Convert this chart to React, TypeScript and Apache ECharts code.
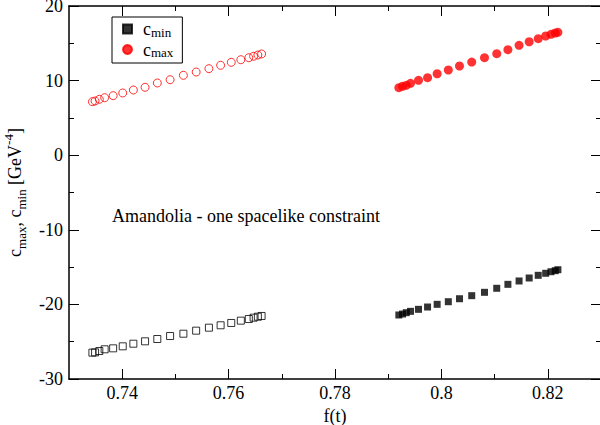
import React, { useEffect, useRef } from "react";
import * as echarts from "echarts";

const fLeft = [0.7344, 0.7349, 0.7357, 0.7367, 0.7383, 0.7401, 0.7421, 0.7443, 0.7466, 0.749, 0.7515, 0.7539, 0.7563, 0.7585, 0.7605, 0.7623, 0.7638, 0.7647, 0.7655, 0.7662];
const cmaxLeft = [7.17, 7.27, 7.49, 7.71, 7.98, 8.34, 8.74, 9.1, 9.68, 10.12, 10.71, 11.15, 11.6, 12.05, 12.45, 12.8, 13.07, 13.26, 13.43, 13.57];
const cminLeft = [-26.47, -26.43, -26.25, -26.02, -25.89, -25.62, -25.27, -24.95, -24.64, -24.24, -23.93, -23.52, -23.12, -22.8, -22.49, -22.18, -21.96, -21.78, -21.65, -21.55];
const fRight = [0.792, 0.7927, 0.7934, 0.7942, 0.7957, 0.7974, 0.7992, 0.8013, 0.8034, 0.8057, 0.8081, 0.8104, 0.8125, 0.8146, 0.8165, 0.8182, 0.8196, 0.8206, 0.8214, 0.8219];
const cmaxRight = [9.05, 9.24, 9.37, 9.64, 10.04, 10.39, 10.92, 11.42, 11.96, 12.49, 13.07, 13.61, 14.14, 14.73, 15.21, 15.62, 15.98, 16.21, 16.38, 16.47];
const cminRight = [-21.42, -21.29, -21.11, -20.93, -20.66, -20.35, -19.99, -19.64, -19.24, -18.83, -18.38, -17.84, -17.31, -16.86, -16.46, -16.1, -15.83, -15.62, -15.48, -15.35];

const xMajor = [0.74, 0.76, 0.78, 0.8, 0.82];
const xMinor = [0.75, 0.77, 0.79, 0.81];
const annotation = "Amandolia - one spacelike constraint";

const FONT = "Liberation Serif";

const zip = (xs: number[], ys: number[]) => xs.map((x, i) => [x, ys[i]]);

export default function App() {
  const ref = useRef<HTMLDivElement>(null);
  useEffect(() => {
    if (!ref.current) return;
    const chart = echarts.init(ref.current, null, { renderer: "svg" });
    const line = { show: true, onZero: false, lineStyle: { color: "#000", width: 1.5 } };
    const noLine = { show: false, onZero: false };
    const tickStyle = { color: "#000", width: 1 };
    const baseX = { type: "value", min: 0.73, max: 0.83, splitLine: { show: false } };
    const rich = {
      c: { fontSize: 18, fontFamily: FONT, color: "#000", lineHeight: 26 },
      s: { fontSize: 13, fontFamily: FONT, color: "#000", lineHeight: 13, verticalAlign: "bottom" },
      p: { fontSize: 13, fontFamily: FONT, color: "#000", lineHeight: 13, verticalAlign: "top" },
    };
    const legendRich = {
      c: { fontSize: 18, fontFamily: FONT, color: "#000", lineHeight: 19, padding: [0, 0, 0, 6] },
      s: { fontSize: 13, fontFamily: FONT, color: "#000", lineHeight: 13, verticalAlign: "bottom" },
    };
    chart.setOption({
      animation: false,
      backgroundColor: "#fff",
      textStyle: { fontFamily: FONT },
      grid: { left: 69, right: -1, top: 6, bottom: 46, containLabel: false, outerBoundsMode: "none" },
      legend: {
        orient: "vertical",
        left: 112,
        top: 17,
        padding: [3, 9, 4, 10],
        itemGap: 2,
        itemWidth: 9,
        itemHeight: 9,
        symbolKeepAspect: true,
        borderColor: "#000",
        borderWidth: 1,
        backgroundColor: "#fff",
        data: [
          { name: "cmin", icon: "rect", itemStyle: { color: "#000" } },
          { name: "cmax", icon: "circle", itemStyle: { color: "#ff0000" } },
        ],
        formatter: (name: string) => (name === "cmin" ? "{c|c}{s|min}" : "{c|c}{s|max}"),
        textStyle: { fontFamily: FONT, rich: legendRich },
      },
      xAxis: [
        {
          ...baseX,
          position: "bottom",
          axisLine: line,
          axisTick: { show: true, inside: true, length: 10, customValues: xMajor, lineStyle: tickStyle },
          axisLabel: {
            customValues: xMajor,
            fontSize: 18,
            fontFamily: FONT,
            color: "#000",
            margin: 5,
            formatter: (v: number) => String(parseFloat(v.toFixed(2))),
          },
          name: "f(t)",
          nameLocation: "middle",
          nameGap: 22,
          nameTextStyle: { fontSize: 18, fontFamily: FONT, color: "#000" },
        },
        {
          ...baseX,
          position: "bottom",
          axisLine: noLine,
          axisTick: { show: true, inside: true, length: 5, customValues: xMinor, lineStyle: tickStyle },
          axisLabel: { show: false },
        },
        {
          ...baseX,
          position: "top",
          axisLine: line,
          axisTick: { show: true, inside: true, length: 10, customValues: xMajor, lineStyle: tickStyle },
          axisLabel: { show: false },
        },
        {
          ...baseX,
          position: "top",
          axisLine: noLine,
          axisTick: { show: true, inside: true, length: 5, customValues: xMinor, lineStyle: tickStyle },
          axisLabel: { show: false },
        },
      ],
      yAxis: [
        {
          type: "value",
          min: -30,
          max: 20,
          interval: 10,
          position: "left",
          splitLine: { show: false },
          axisLine: line,
          axisTick: { show: true, inside: true, length: 10, lineStyle: tickStyle },
          minorTick: { show: true, splitNumber: 2, length: 5, lineStyle: tickStyle },
          axisLabel: { fontSize: 18, fontFamily: FONT, color: "#000", margin: 6, lineHeight: 14 },
          name: "{c|c}{s|max}{c|, c}{s|min}{c| [GeV}{p|-4}{c|]}",
          nameLocation: "middle",
          nameGap: 35,
          nameRotate: 90,
          nameTextStyle: { fontFamily: FONT, rich },
        },
        {
          type: "value",
          min: -30,
          max: 20,
          interval: 10,
          position: "right",
          splitLine: { show: false },
          axisLine: line,
          axisTick: { show: true, inside: true, length: 10, lineStyle: tickStyle },
          minorTick: { show: true, splitNumber: 2, length: 5, lineStyle: tickStyle },
          axisLabel: { show: false },
        },
      ],
      graphic: [
        {
          type: "text",
          left: 112,
          top: 207,
          style: { text: annotation, fontSize: 18, fontFamily: FONT, fill: "#000" },
        },
      ],
      series: [
        {
          name: "cmin",
          type: "scatter",
          data: zip(fLeft, cminLeft),
          symbol: "rect",
          symbolSize: 7,
          itemStyle: { color: "rgba(0,0,0,0)", borderColor: "#000", borderWidth: 1 },
        },
        {
          name: "cmin",
          type: "scatter",
          data: zip(fRight, cminRight),
          symbol: "rect",
          symbolSize: 7,
          itemStyle: { color: "#000" },
        },
        {
          name: "cmax",
          type: "scatter",
          data: zip(fLeft, cmaxLeft),
          symbol: "circle",
          symbolSize: 8,
          itemStyle: { color: "rgba(0,0,0,0)", borderColor: "#ff0000", borderWidth: 1 },
        },
        {
          name: "cmax",
          type: "scatter",
          data: zip(fRight, cmaxRight),
          symbol: "circle",
          symbolSize: 9,
          itemStyle: { color: "#ff0000" },
        },
      ],
    });
    return () => chart.dispose();
  }, []);
  return (
    <div
      ref={ref}
      style={{ position: "absolute", left: 0, top: 0, width: 600, height: 425 }}
    />
  );
}
